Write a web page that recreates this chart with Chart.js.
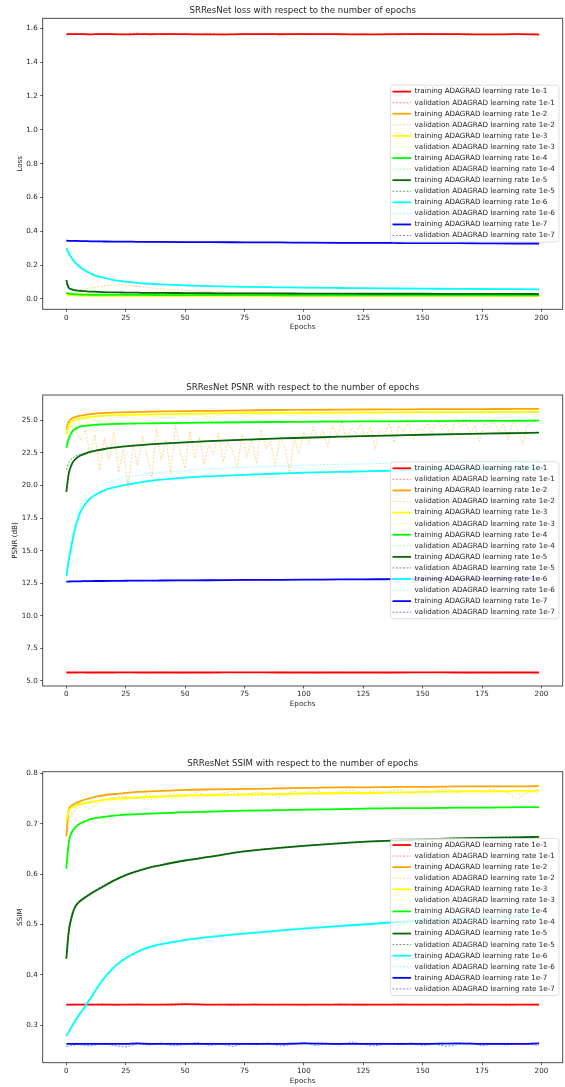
<!DOCTYPE html>
<html>
<head>
<meta charset="utf-8">
<script src="https://cdn.jsdelivr.net/npm/chart.js@4"></script>
<style>
  body { margin: 0; background: #fff; }
  #wrap { position: relative; width: 565px; height: 1087px; }
  canvas { position: absolute; left: 0; }
</style>
</head>
<body>
<div id="wrap">
  <canvas id="loss" width="565" height="377" style="top:0px"></canvas>
  <canvas id="psnr" width="565" height="377" style="top:377px"></canvas>
  <canvas id="ssim" width="565" height="334" style="top:753px"></canvas>
</div>
<script>
// x positions (epochs) of the sampled points
const epochs = [0,1,2,3,4,5,6,8,10,12,15,20,25,30,35,40,50,60,75,90,100,115,125,140,150,165,175,190,199];
const epochs5 = [0,5,10,15,20,25,30,35,40,45,50,55,60,65,70,75,80,85,90,95,100,105,110,115,120,125,130,135,140,145,150,155,160,165,170,175,180,185,190,195,199];
const epochs2 = [0,2,4,6,8,10,12,14,16,18,20,22,24,26,28,30,32,34,36,38,40,42,44,46,48,50,52,54,56,58,60,62,64,66,68,70,72,74,76,78,80,82,84,86,88,90,92,94,96,98,100,102,104,106,108,110,112,114,116,118,120,122,124,126,128,130,132,134,136,138,140,142,144,146,148,150,152,154,156,158,160,162,164,166,168,170,172,174,176,178,180,182,184,186,188,190,192,194,196,198];

const rates = ['1e-1','1e-2','1e-3','1e-4','1e-5','1e-6','1e-7'];
const trainColors = ['#ff0000','#ffa500','#ffff00','#00ff00','#0a680a','#00ffff','#0000ff'];
const valColors = ['rgba(255,0,0,0.45)','rgba(255,165,0,0.45)','rgba(240,240,0,0.5)','rgba(0,255,0,0.35)','rgba(0,100,0,0.6)','rgba(0,255,255,0.4)','rgba(0,0,255,0.5)'];

const epochTicks = [0,25,50,75,100,125,150,175,200];
const lossTicks = [0.0,0.2,0.4,0.6,0.8,1.0,1.2,1.4,1.6];
const psnrTicks = [5.0,7.5,10.0,12.5,15.0,17.5,20.0,22.5,25.0];
const ssimTicks = [0.3,0.4,0.5,0.6,0.7,0.8];

// ---- loss ----
const lossTrain1 = [1.565,1.565,1.565,1.565,1.565,1.565,1.565,1.565,1.564,1.565,1.565,1.565,1.564,1.565,1.565,1.565,1.565,1.564,1.565,1.565,1.565,1.565,1.564,1.565,1.565,1.565,1.564,1.565,1.564];
const lossVal1 = [1.560,1.568,1.563,1.570,1.561,1.566,1.572,1.559,1.565,1.569,1.562,1.567,1.571,1.560,1.564,1.568,1.563,1.570,1.558,1.566,1.569,1.562,1.567,1.561,1.565,1.571,1.563,1.568,1.560,1.566,1.570,1.562,1.567,1.564,1.569,1.561,1.566,1.563,1.568,1.562,1.560];
const lossTrain2 = [0.034,0.030,0.028,0.027,0.026,0.026,0.025,0.025,0.024,0.024,0.024,0.023,0.023,0.023,0.023,0.022,0.022,0.022,0.022,0.022,0.021,0.021,0.021,0.021,0.021,0.021,0.021,0.020,0.020];
const lossVal2 = [0.030,0.052,0.066,0.076,0.084,0.081,0.073,0.066,0.060,0.055,0.051,0.047,0.044,0.042,0.040,0.039,0.037,0.036,0.035,0.034,0.034,0.033,0.033,0.032,0.032,0.031,0.031,0.031,0.030,0.030,0.030,0.029,0.029,0.029,0.029,0.028,0.028,0.028,0.028,0.028,0.028];
const lossTrain3 = [0.026,0.023,0.022,0.021,0.021,0.020,0.020,0.020,0.020,0.019,0.019,0.019,0.019,0.019,0.019,0.019,0.018,0.018,0.018,0.018,0.018,0.018,0.018,0.018,0.018,0.018,0.018,0.018,0.018];
const lossVal3 = [0.028,0.025,0.024,0.023,0.022,0.022,0.022,0.021,0.021,0.021,0.021,0.021,0.020,0.020,0.020,0.020,0.020,0.020,0.020,0.020,0.020,0.019,0.019,0.019,0.019,0.019,0.019,0.019,0.019];
const lossTrain4 = [0.036,0.031,0.029,0.028,0.027,0.027,0.026,0.026,0.025,0.025,0.025,0.024,0.024,0.024,0.024,0.023,0.023,0.023,0.023,0.022,0.022,0.022,0.022,0.022,0.022,0.022,0.022,0.022,0.022];
const lossVal4 = [0.037,0.032,0.030,0.029,0.028,0.028,0.027,0.027,0.026,0.026,0.026,0.025,0.025,0.025,0.025,0.024,0.024,0.024,0.024,0.023,0.023,0.023,0.023,0.023,0.023,0.023,0.023,0.023,0.023];
const lossTrain5 = [0.112,0.066,0.058,0.054,0.051,0.049,0.048,0.046,0.044,0.043,0.041,0.039,0.038,0.037,0.036,0.036,0.035,0.034,0.033,0.033,0.032,0.032,0.031,0.031,0.031,0.030,0.030,0.030,0.029];
const lossVal5 = [0.090,0.064,0.057,0.053,0.050,0.049,0.047,0.045,0.044,0.042,0.041,0.039,0.038,0.037,0.036,0.035,0.035,0.034,0.033,0.032,0.032,0.032,0.031,0.031,0.031,0.030,0.030,0.030,0.029];
const lossTrain6 = [0.300,0.272,0.248,0.228,0.212,0.198,0.186,0.167,0.152,0.140,0.127,0.112,0.102,0.095,0.090,0.086,0.080,0.076,0.072,0.069,0.067,0.065,0.064,0.062,0.061,0.060,0.059,0.058,0.057];
const lossVal6 = [0.285,0.262,0.240,0.221,0.206,0.193,0.181,0.163,0.149,0.138,0.125,0.110,0.100,0.094,0.089,0.085,0.079,0.075,0.071,0.068,0.066,0.064,0.063,0.062,0.061,0.060,0.059,0.058,0.057];
const lossTrain7 = [0.345,0.344,0.344,0.343,0.343,0.343,0.342,0.342,0.341,0.341,0.340,0.339,0.339,0.338,0.338,0.337,0.336,0.336,0.335,0.334,0.333,0.332,0.332,0.331,0.330,0.330,0.329,0.328,0.328];
const lossVal7 = [0.344,0.344,0.343,0.343,0.343,0.342,0.342,0.341,0.341,0.341,0.340,0.339,0.338,0.338,0.337,0.337,0.336,0.335,0.334,0.334,0.333,0.332,0.331,0.331,0.330,0.329,0.329,0.328,0.327];

// ---- PSNR ----
const psnrTrain1 = [5.65,5.65,5.65,5.65,5.65,5.65,5.66,5.65,5.65,5.65,5.65,5.65,5.66,5.65,5.65,5.65,5.65,5.65,5.66,5.65,5.65,5.65,5.65,5.65,5.66,5.65,5.65,5.65,5.65];
const psnrVal1 = [5.63,5.66,5.64,5.67,5.65,5.62,5.66,5.64,5.68,5.65,5.63,5.66,5.64,5.67,5.65,5.63,5.66,5.65,5.68,5.64,5.66,5.63,5.65,5.67,5.64,5.66,5.65,5.63,5.67,5.65,5.64,5.66,5.68,5.65,5.63,5.66,5.64,5.67,5.65,5.66,5.64];
const psnrTrain2 = [24.3,24.9,25.1,25.2,25.27,25.32,25.36,25.42,25.47,25.51,25.55,25.59,25.62,25.64,25.66,25.68,25.71,25.73,25.76,25.79,25.8,25.82,25.83,25.84,25.85,25.86,25.86,25.87,25.87];
const psnrVal2 = [24.0,24.6,24.2,23.5,24.3,22.4,23.9,21.2,23.6,22.0,
  24.1,21.0,22.8,19.8,23.2,21.5,23.8,22.3,20.6,24.4,
  21.9,23.5,20.9,24.6,22.6,21.3,24.2,22.1,23.7,21.6,
  23.1,22.4,24.0,21.8,23.3,22.6,21.4,23.9,22.2,23.5,
  21.7,24.3,22.8,23.4,21.5,23.8,22.9,21.0,23.6,22.4,
  24.1,23.2,24.5,23.6,24.2,23.0,24.6,23.8,24.9,23.5,
  24.4,24.0,24.7,23.7,24.5,22.8,24.3,23.9,24.8,23.3,
  24.6,24.1,24.9,23.6,24.4,24.2,24.8,23.9,25.1,24.3,
  24.7,23.8,25.2,24.5,24.9,24.0,24.6,23.4,24.8,24.4,
  25.0,24.1,24.7,23.5,24.9,24.3,23.2,24.6,24.8,25.0];
const psnrTrain3 = [23.9,24.6,24.85,24.97,25.05,25.1,25.14,25.2,25.25,25.3,25.34,25.38,25.41,25.43,25.45,25.47,25.5,25.52,25.55,25.57,25.58,25.6,25.61,25.62,25.62,25.63,25.63,25.64,25.64];
const psnrVal3 = [24.2,25.0,25.1,24.8,25.2,25.3,25.1,25.35,25.2,25.4,25.3,25.45,25.25,25.4,25.5,25.3,25.45,25.4,25.5,25.35,25.5,25.45,25.55,25.4,25.5,25.55,25.45,25.6,25.5,25.55,25.6,25.45,25.6,25.55,25.65,25.5,25.6,25.62,25.55,25.6,25.62];
const psnrTrain4 = [22.9,23.6,24.0,24.25,24.38,24.46,24.52,24.58,24.62,24.65,24.68,24.72,24.74,24.76,24.77,24.78,24.8,24.82,24.85,24.87,24.88,24.9,24.91,24.92,24.93,24.95,24.95,24.96,24.97];
const psnrVal4 = [23.2,24.5,24.6,24.7,24.65,24.75,24.7,24.8,24.75,24.85,24.8,24.85,24.9,24.8,24.9,24.85,24.95,24.9,24.85,24.95,24.9,25.0,24.95,25.05,24.9,25.0,25.05,24.95,25.0,25.05,25.0,24.95,25.05,25.0,25.1,25.0,25.05,25.0,25.1,25.05,25.0];
const psnrTrain5 = [19.5,20.9,21.5,21.85,22.05,22.2,22.3,22.45,22.57,22.65,22.76,22.9,23.0,23.08,23.15,23.21,23.31,23.4,23.51,23.61,23.66,23.74,23.79,23.85,23.89,23.94,23.97,24.02,24.05];
const psnrVal5 = [21.2,21.75,22.0,22.15,22.26,22.34,22.4,22.5,22.6,22.68,22.78,22.92,23.02,23.1,23.16,23.22,23.32,23.41,23.52,23.62,23.67,23.75,23.8,23.86,23.9,23.95,23.98,24.03,24.06];
const psnrTrain6 = [13.05,14.2,15.2,16.1,16.9,17.5,18.0,18.6,19.0,19.25,19.55,19.85,20.05,20.2,20.35,20.45,20.6,20.7,20.82,20.92,20.98,21.04,21.08,21.15,21.2,21.25,21.28,21.32,21.35];
const psnrVal6 = [13.3,14.6,15.6,16.5,17.3,17.9,18.4,19.0,19.45,19.75,20.05,20.4,20.62,20.78,20.9,21.0,21.15,21.27,21.4,21.5,21.55,21.62,21.66,21.72,21.75,21.8,21.82,21.86,21.88];
const psnrTrain7 = [12.62,12.63,12.64,12.64,12.65,12.65,12.65,12.66,12.66,12.67,12.67,12.68,12.69,12.7,12.7,12.71,12.72,12.73,12.75,12.76,12.77,12.79,12.8,12.81,12.82,12.84,12.85,12.86,12.87];
const psnrVal7 = [12.63,12.64,12.64,12.65,12.65,12.66,12.66,12.66,12.67,12.67,12.68,12.69,12.7,12.7,12.71,12.72,12.73,12.74,12.75,12.77,12.78,12.79,12.8,12.82,12.83,12.84,12.85,12.86,12.87];

// ---- SSIM ----
const ssimTrain1 = [0.341,0.341,0.341,0.341,0.341,0.341,0.341,0.341,0.341,0.341,0.341,0.341,0.341,0.341,0.341,0.341,0.342,0.341,0.341,0.341,0.341,0.341,0.341,0.341,0.341,0.341,0.341,0.341,0.341];
const ssimVal1 = [0.339,0.342,0.340,0.343,0.339,0.341,0.343,0.340,0.342,0.339,0.341,0.343,0.340,0.342,0.339,0.341,0.343,0.340,0.342,0.341,0.339,0.342,0.340,0.343,0.341,0.339,0.342,0.340,0.343,0.341,0.340,0.342,0.339,0.341,0.343,0.340,0.342,0.339,0.341,0.342,0.340];
const ssimTrain2 = [0.675,0.728,0.735,0.738,0.741,0.743,0.745,0.748,0.751,0.753,0.756,0.759,0.761,0.763,0.764,0.765,0.767,0.768,0.769,0.770,0.771,0.772,0.772,0.773,0.773,0.774,0.774,0.774,0.775];
const ssimVal2 = [0.700,0.742,0.728,0.748,0.752,0.755,0.750,0.758,0.753,0.760,0.757,0.762,0.755,0.761,0.764,0.758,0.763,0.760,0.752,0.765,0.762,0.766,0.759,0.764,0.767,0.761,0.765,0.763,0.768,0.760,0.766,0.764,0.769,0.762,0.767,0.765,0.768,0.763,0.748,0.766,0.767];
const ssimTrain3 = [0.705,0.726,0.731,0.734,0.736,0.738,0.739,0.741,0.743,0.745,0.747,0.749,0.751,0.752,0.753,0.754,0.756,0.757,0.758,0.759,0.760,0.761,0.761,0.762,0.763,0.764,0.764,0.765,0.765];
const ssimVal3 = [0.700,0.735,0.740,0.745,0.743,0.748,0.750,0.747,0.752,0.750,0.754,0.751,0.755,0.753,0.756,0.752,0.757,0.755,0.758,0.754,0.757,0.759,0.756,0.758,0.760,0.757,0.759,0.761,0.756,0.760,0.758,0.761,0.759,0.762,0.758,0.761,0.760,0.762,0.759,0.761,0.762];
const ssimTrain4 = [0.611,0.662,0.680,0.688,0.694,0.698,0.701,0.705,0.709,0.711,0.713,0.716,0.718,0.719,0.720,0.721,0.723,0.724,0.726,0.727,0.728,0.729,0.730,0.731,0.731,0.732,0.732,0.733,0.733];
const ssimVal4 = [0.615,0.660,0.678,0.687,0.693,0.697,0.700,0.704,0.708,0.710,0.712,0.715,0.717,0.718,0.719,0.720,0.722,0.723,0.725,0.726,0.727,0.728,0.729,0.730,0.730,0.731,0.731,0.732,0.732];
const ssimTrain5 = [0.432,0.485,0.510,0.527,0.537,0.543,0.547,0.554,0.560,0.566,0.574,0.587,0.598,0.606,0.613,0.618,0.627,0.634,0.645,0.652,0.656,0.661,0.664,0.667,0.669,0.671,0.672,0.673,0.674];
const ssimVal5 = [0.445,0.492,0.515,0.530,0.540,0.545,0.549,0.556,0.562,0.568,0.576,0.588,0.599,0.607,0.614,0.619,0.628,0.635,0.646,0.653,0.657,0.662,0.665,0.668,0.670,0.672,0.673,0.674,0.675];
const ssimTrain6 = [0.279,0.287,0.295,0.303,0.311,0.318,0.325,0.338,0.352,0.367,0.388,0.415,0.433,0.446,0.455,0.461,0.469,0.475,0.482,0.488,0.492,0.497,0.500,0.505,0.508,0.511,0.513,0.516,0.518];
const ssimVal6 = [0.282,0.290,0.298,0.306,0.314,0.321,0.328,0.341,0.355,0.370,0.391,0.417,0.435,0.448,0.457,0.463,0.471,0.477,0.484,0.490,0.494,0.499,0.502,0.507,0.510,0.513,0.515,0.518,0.520];
const ssimTrain7 = [0.263,0.263,0.263,0.263,0.263,0.263,0.263,0.263,0.263,0.263,0.263,0.263,0.263,0.264,0.263,0.263,0.263,0.263,0.263,0.263,0.264,0.263,0.263,0.263,0.263,0.264,0.263,0.263,0.264];
const ssimVal7 = [0.258,0.262,0.259,0.264,0.260,0.257,0.263,0.261,0.265,0.259,0.262,0.266,0.260,0.263,0.258,0.264,0.261,0.265,0.259,0.262,0.266,0.260,0.263,0.261,0.267,0.262,0.259,0.264,0.261,0.265,0.260,0.263,0.258,0.262,0.265,0.259,0.263,0.261,0.264,0.262,0.260];

const FONT = 'DejaVu Sans';
const TEXT = '#262626';

function buildDatasets(list) {
  return list.map(([xs, ys], i) => {
    const k = Math.floor(i / 2), isVal = i % 2 === 1;
    return {
      label: (isVal ? 'validation' : 'training') + ' ADAGRAD learning rate ' + rates[k],
      data: xs.map((x, j) => ({x: x, y: ys[j]})),
      borderColor: isVal ? valColors[k] : trainColors[k],
      borderWidth: isVal ? 1 : 1.8,
      borderDash: isVal ? [2, 1.5] : [],
      pointRadius: 0,
      cubicInterpolationMode: xs === epochs ? 'monotone' : 'default',
      tension: 0,
      fill: false,
      order: list.length - 1 - i
    };
  });
}

// axes frame + matplotlib style legend box
const boxLegend = {
  id: 'boxLegend',
  afterDatasetsDraw(chart) {
    const ctx = chart.ctx, a = chart.chartArea;
    const sets = chart.data.datasets;
    const rowH = 11.07, y0 = a.top + 73.3;
    ctx.save();
    ctx.strokeStyle = '#3a3a3a';
    ctx.lineWidth = 0.9;
    ctx.strokeRect(a.left, a.top, a.right - a.left, a.bottom - a.top);

    ctx.beginPath();
    ctx.roundRect(390.5, y0 - 6.5, 168.5, rowH * (sets.length - 1) + 13, 2.5);
    ctx.fillStyle = 'rgba(255,255,255,0.8)';
    ctx.fill();
    ctx.strokeStyle = 'rgba(204,204,204,0.8)';
    ctx.lineWidth = 0.8;
    ctx.stroke();

    ctx.font = '7.2px "' + FONT + '"';
    ctx.textBaseline = 'middle';
    sets.forEach((ds, i) => {
      const y = y0 + i * rowH;
      ctx.beginPath();
      ctx.setLineDash(ds.borderDash);
      ctx.strokeStyle = ds.borderColor;
      ctx.lineWidth = ds.borderWidth;
      ctx.moveTo(392.5, y);
      ctx.lineTo(411, y);
      ctx.stroke();
      ctx.setLineDash([]);
      ctx.fillStyle = TEXT;
      ctx.fillText(ds.label, 414.5, y);
    });
    ctx.restore();
  }
};

function makeChart(id, opt) {
  const canvas = document.getElementById(id);
  const T = opt.top, B = opt.bottom, H = 24;
  return new Chart(canvas, {
    type: 'line',
    data: { datasets: buildDatasets(opt.series) },
    options: {
      responsive: false,
      animation: false,
      devicePixelRatio: 1,
      layout: { padding: { left: 0, right: 2.3, top: 0, bottom: canvas.height - B - H } },
      plugins: {
        legend: { display: false },
        tooltip: { enabled: false },
        title: {
          display: true,
          text: opt.title,
          fullSize: false,
          color: TEXT,
          font: { family: FONT, size: 8.64, weight: 'normal' },
          padding: { top: T - 7.5 - 5.18, bottom: 2.32 }
        }
      },
      scales: {
        x: {
          type: 'linear',
          min: -9.95,
          max: 208.95,
          afterBuildTicks: s => { s.ticks = epochTicks.map(v => ({value: v})); },
          afterFit: s => { s.height = H; },
          grid: { drawOnChartArea: false, drawTicks: true, tickLength: 2.5, color: '#333', lineWidth: 0.8 },
          border: { display: false },
          ticks: { color: TEXT, font: { family: FONT, size: 7.2 }, padding: 1.6, maxRotation: 0, callback: v => String(v) },
          title: { display: true, text: 'Epochs', color: TEXT, font: { family: FONT, size: 7.2 }, padding: { top: 0, bottom: 1.7 } }
        },
        y: {
          type: 'linear',
          min: opt.min,
          max: opt.max,
          afterBuildTicks: s => { s.ticks = opt.ticks.map(v => ({value: v})); },
          afterFit: s => { s.width = 42.7; },
          grid: { drawOnChartArea: false, drawTicks: true, tickLength: 2.5, color: '#333', lineWidth: 0.8 },
          border: { display: false },
          ticks: { color: TEXT, font: { family: FONT, size: 7.2 }, padding: 2.5, callback: v => v.toFixed(1) },
          title: { display: true, text: opt.ylabel, color: TEXT, font: { family: FONT, size: 7.2 }, padding: { top: opt.ypad, bottom: 0 } }
        }
      }
    },
    plugins: [boxLegend]
  });
}

makeChart('loss', {
  title: 'SRResNet loss with respect to the number of epochs',
  ylabel: 'Loss', ypad: 15.6,
  top: 18.3, bottom: 309.3, min: -0.061, max: 1.659, ticks: lossTicks,
  series: [[epochs, lossTrain1], [epochs5, lossVal1], [epochs, lossTrain2], [epochs5, lossVal2],
           [epochs, lossTrain3], [epochs, lossVal3], [epochs, lossTrain4], [epochs, lossVal4],
           [epochs, lossTrain5], [epochs, lossVal5], [epochs, lossTrain6], [epochs, lossVal6],
           [epochs, lossTrain7], [epochs, lossVal7]]
});

makeChart('psnr', {
  title: 'SRResNet PSNR with respect to the number of epochs',
  ylabel: 'PSNR (dB)', ypad: 10.4,
  top: 18, bottom: 309, min: 4.616, max: 26.94, ticks: psnrTicks,
  series: [[epochs, psnrTrain1], [epochs5, psnrVal1], [epochs, psnrTrain2], [epochs2, psnrVal2],
           [epochs, psnrTrain3], [epochs5, psnrVal3], [epochs, psnrTrain4], [epochs5, psnrVal4],
           [epochs, psnrTrain5], [epochs, psnrVal5], [epochs, psnrTrain6], [epochs, psnrVal6],
           [epochs, psnrTrain7], [epochs, psnrVal7]]
});

makeChart('ssim', {
  title: 'SRResNet SSIM with respect to the number of epochs',
  ylabel: 'SSIM', ypad: 15.6,
  top: 18.7, bottom: 309.7, min: 0.2258, max: 0.8032, ticks: ssimTicks,
  series: [[epochs, ssimTrain1], [epochs5, ssimVal1], [epochs, ssimTrain2], [epochs5, ssimVal2],
           [epochs, ssimTrain3], [epochs5, ssimVal3], [epochs, ssimTrain4], [epochs, ssimVal4],
           [epochs, ssimTrain5], [epochs, ssimVal5], [epochs, ssimTrain6], [epochs, ssimVal6],
           [epochs, ssimTrain7], [epochs5, ssimVal7]]
});
</script>
</body>
</html>
